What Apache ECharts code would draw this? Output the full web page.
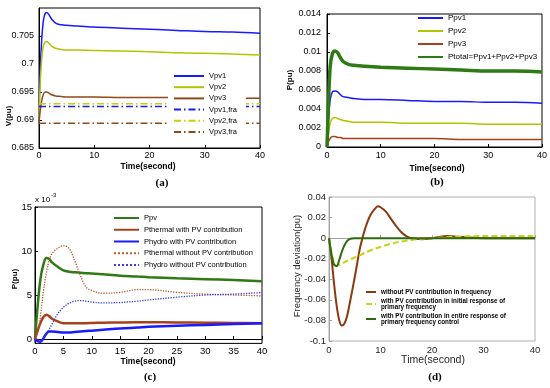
<!DOCTYPE html>
<html><head><meta charset="utf-8">
<script src="https://cdn.jsdelivr.net/npm/echarts@6/dist/echarts.min.js"></script>
<style>html,body{margin:0;padding:0;background:#fff}#c{width:550px;height:388px}</style>
</head><body><div id="c"></div>
<script>
// ---------- (a) PV voltages ----------
const tA = [0, 0.2, 0.5, 0.8, 1.1, 1.4, 1.8, 2.3, 3, 4, 5, 7, 10, 15, 20, 25, 30, 35, 40];
const vpv1 = [0.6905, 0.6985, 0.7045, 0.7078, 0.7090, 0.7092, 0.7088, 0.7080, 0.7073, 0.7070, 0.7069, 0.7068, 0.7066, 0.7064, 0.7062, 0.7060, 0.7058, 0.7057, 0.7055];
const vpv2 = [0.6905, 0.6960, 0.7010, 0.7033, 0.7039, 0.7040, 0.7037, 0.7032, 0.7028, 0.7026, 0.7025, 0.7025, 0.7024, 0.7023, 0.7022, 0.7020, 0.7019, 0.7018, 0.7016];
const vpv3 = [0.6895, 0.6915, 0.6935, 0.6946, 0.6950, 0.6950, 0.6948, 0.6945, 0.6943, 0.6942, 0.6941, 0.6941, 0.6941, 0.6940, 0.6940, 0.6940, 0.6939, 0.6939, 0.6939];
const tFra = [0, 40];
const vpv1Fra = [0.6924, 0.6924];
const vpv2Fra = [0.6929, 0.6929];
const vpv3Fra = [0.6894, 0.6894];

// ---------- (b) PV powers ----------
const tB = [0, 0.3, 0.6, 1.0, 1.5, 2.0, 2.5, 3, 4, 5, 7, 10, 15, 20, 25, 30, 35, 40];
const ptotal = [0, 0.0050, 0.0085, 0.0098, 0.0101, 0.0099, 0.0094, 0.0090, 0.0087, 0.0086, 0.0085, 0.0084, 0.0083, 0.0082, 0.0081, 0.0080, 0.0080, 0.0079];
const ppv1 = [0, 0.0030, 0.0050, 0.0058, 0.0059, 0.0058, 0.0055, 0.0053, 0.0052, 0.0051, 0.0050, 0.0050, 0.0049, 0.0048, 0.0048, 0.0047, 0.0047, 0.0046];
const ppv2 = [0, 0.0015, 0.0025, 0.0030, 0.0031, 0.0030, 0.0029, 0.0028, 0.0027, 0.0026, 0.0026, 0.0026, 0.0025, 0.0025, 0.0025, 0.0024, 0.0024, 0.0024];
const ppv3 = [0, 0.0006, 0.0009, 0.0011, 0.0011, 0.0010, 0.0010, 0.0009, 0.0009, 0.0009, 0.0009, 0.0009, 0.0009, 0.0009, 0.0008, 0.0008, 0.0008, 0.0008];

// ---------- (c) powers, x10^-3 ----------
const tC = [0, 0.5, 1, 1.5, 2, 2.5, 3, 4, 5, 6, 7, 8, 9, 10, 12, 15, 18, 20, 25, 30, 35, 40];
const ppvC = [0, 4.0, 7.0, 8.5, 9.2, 9.1, 8.7, 8.2, 7.8, 7.65, 7.58, 7.52, 7.48, 7.45, 7.35, 7.2, 7.1, 7.02, 6.9, 6.8, 6.7, 6.57];
const thermWith = [0, 1.0, 1.9, 2.5, 2.75, 2.6, 2.3, 2.0, 1.8, 1.78, 1.78, 1.8, 1.8, 1.82, 1.85, 1.88, 1.9, 1.9, 1.88, 1.85, 1.82, 1.8];
const hydroWith = [0, -0.25, -0.3, 0.1, 0.6, 0.85, 0.85, 0.8, 0.75, 0.75, 0.8, 0.85, 0.9, 0.95, 1.05, 1.2, 1.3, 1.38, 1.5, 1.6, 1.7, 1.78];
const thermWithout = [0, 0.8, 2.8, 5.5, 7.5, 8.9, 9.7, 10.3, 10.6, 10.3, 8.9, 7.2, 5.9, 5.5, 5.2, 5.3, 5.6, 5.6, 5.3, 5.1, 5.0, 4.9];
const hydroWithout = [0, -0.1, -0.2, 0.1, 0.6, 1.1, 1.7, 2.85, 3.6, 4.06, 4.3, 4.37, 4.3, 4.2, 4.1, 4.15, 4.3, 4.44, 4.75, 5.0, 5.1, 5.28];
const ticksC = [0, 5, 10, 15];

// ---------- (d) frequency deviation ----------
const tD1 = [0, 0.5, 1, 1.5, 2, 2.5, 3, 3.5, 4, 5, 6, 6.5, 7, 8, 9, 9.5, 10, 11, 12, 13, 14, 15, 16, 18, 20, 23, 26, 30, 40];
const fNoPV = [0, -0.02, -0.045, -0.066, -0.08, -0.085, -0.083, -0.076, -0.064, -0.038, -0.01, 0, 0.009, 0.022, 0.029, 0.031, 0.030, 0.026, 0.019, 0.012, 0.006, 0.002, 0.0, -0.001, 0.0, 0.002, 0.001, 0, 0];
const tD2 = [0, 0.5, 1, 1.5, 2, 4, 6, 8, 10, 12, 14, 16, 18, 20, 25, 30, 40];
const fInitPV = [0, -0.014, -0.024, -0.027, -0.026, -0.021, -0.0165, -0.012, -0.0085, -0.0055, -0.0033, -0.0017, -0.0006, 0, 0.0015, 0.002, 0.002];
const tD3 = [0, 0.5, 1, 1.5, 2, 2.5, 3, 3.5, 4, 4.5, 5, 40];
const fEntirePV = [0, -0.016, -0.026, -0.027, -0.021, -0.013, -0.007, -0.003, -0.001, -0.0003, 0, 0];

const namesA = ['Vpv1', 'Vpv2', 'Vpv3', 'Vpv1,fra', 'Vpv2,fra', 'Vpv3,fra'];
const namesB = ['Ppv1', 'Ppv2', 'Ppv3', 'Ptotal=Ppv1+Ppv2+Ppv3'];
const namesC = ['Ppv', 'Pthermal with PV contribution', 'Phydro with PV contribution', 'Pthermal without PV contribution', 'Phydro without PV contribution'];
const namesD = ['without PV contribution in frequency', 'with PV contribution in initial response of primary frequency', 'with PV contribution in entire response of primary frequency control'];

function zip(t, v) { return t.map((x, i) => [x, v[i]]); }
function line(name, t, v, g, color, width, type, smooth) {
  return {
    type: 'line', name: name, xAxisIndex: g, yAxisIndex: g, data: zip(t, v),
    symbol: 'none', smooth: smooth === undefined ? 0.35 : smooth, animation: false,
    lineStyle: { color: color, width: width, type: type || 'solid' },
    itemStyle: { color: color }
  };
}
const FF = '"Liberation Sans", Arial, sans-serif';
const BLUE = '#1a1aff', YG = '#b4c400', BROWN = '#8e4a1a', RBROWN = '#a8401c', DGREEN = '#2e7a14';
const dashDot = [7, 3, 1.5, 3];
const hideSym = { opacity: 0, borderWidth: 0 };

function xAx(g, interval, color, fs, margin) {
  return {
    type: 'value', gridIndex: g, min: 0, max: 40, interval: interval,
    axisLine: { show: true, lineStyle: { color: color, width: 1 } },
    axisTick: { show: true, inside: true, length: 3, lineStyle: { color: color } },
    splitLine: { show: false },
    axisLabel: { fontSize: fs, fontFamily: FF, color: color === '#000' ? '#000' : '#262626', margin: margin }
  };
}

const chart = echarts.init(document.getElementById('c'), null, { renderer: 'canvas' });
const opt = {
  backgroundColor: '#fff',
  animation: false,
  grid: [
    { left: 39, top: 8, width: 221, height: 140, show: true, borderColor: '#000', borderWidth: 1 },
    { left: 327, top: 14, width: 215, height: 133, show: true, borderColor: '#000', borderWidth: 1 },
    { left: 35, top: 207, width: 227, height: 136.4, show: true, borderColor: '#000', borderWidth: 1 },
    { left: 329, top: 197, width: 206, height: 144, show: true, borderColor: '#b0b0b0', borderWidth: 1 }
  ],
  xAxis: [
    xAx(0, 10, '#000', 9, 3),
    xAx(1, 10, '#000', 9, 4),
    xAx(2, 5, '#000', 9.5, 3),
    xAx(3, 10, '#a0a0a0', 9.5, 4)
  ],
  yAxis: [
    {
      type: 'value', gridIndex: 0, min: 0.685, max: 0.71, interval: 0.005,
      axisLine: { show: true, lineStyle: { color: '#000' } },
      axisTick: { inside: true, length: 3, lineStyle: { color: '#000' } },
      splitLine: { show: false },
      axisLabel: { fontSize: 9, fontFamily: FF, color: '#000', margin: 5, showMaxLabel: false,
        formatter: v => (v > 0.7095 ? '' : String(+v.toFixed(3))) }
    },
    {
      type: 'value', gridIndex: 1, min: 0, max: 0.014, interval: 0.002,
      axisLine: { show: true, lineStyle: { color: '#000' } },
      axisTick: { inside: true, length: 3, lineStyle: { color: '#000' } },
      splitLine: { show: false },
      axisLabel: { fontSize: 9, fontFamily: FF, color: '#000', margin: 6,
        formatter: v => String(+v.toFixed(3)) }
    },
    {
      type: 'value', gridIndex: 2, min: -0.5, max: 15,
      axisLine: { show: true, lineStyle: { color: '#000' } },
      axisTick: { inside: true, length: 3, lineStyle: { color: '#000' }, customValues: ticksC },
      splitLine: { show: false },
      axisLabel: { fontSize: 9.5, fontFamily: FF, color: '#000', margin: 3, customValues: ticksC }
    },
    {
      type: 'value', gridIndex: 3, min: -0.1, max: 0.04, interval: 0.02,
      axisLine: { show: true, lineStyle: { color: '#a0a0a0' } },
      axisTick: { inside: true, length: 3, lineStyle: { color: '#a0a0a0' } },
      splitLine: { show: false },
      axisLabel: { fontSize: 9.5, fontFamily: FF, color: '#262626', margin: 3,
        formatter: v => String(+v.toFixed(2)) }
    }
  ],
  legend: [
    {
      data: namesA, orient: 'vertical', left: 168, top: 69, padding: [3, 9, 3, 5],
      itemWidth: 30, itemHeight: 8, itemGap: 3.2, backgroundColor: '#fff', itemStyle: hideSym,
      textStyle: { fontSize: 7.5, lineHeight: 8, fontFamily: FF, color: '#000' }
    },
    {
      data: namesB, orient: 'vertical', left: 417, top: 14, padding: 0,
      itemWidth: 25, itemHeight: 8, itemGap: 5, itemStyle: hideSym,
      textStyle: { fontSize: 8, lineHeight: 8, fontFamily: FF, color: '#000' }
    },
    {
      data: namesC, orient: 'vertical', left: 111, top: 212, padding: [2, 4, 2, 2],
      itemWidth: 25, itemHeight: 8, itemGap: 3.75, backgroundColor: '#fff', itemStyle: hideSym,
      textStyle: { fontSize: 7.5, lineHeight: 8, fontFamily: FF, color: '#000' }
    },
    {
      data: namesD, orient: 'vertical', left: 365, top: 289, padding: 0,
      itemWidth: 10, itemHeight: 5, itemGap: 3, itemStyle: hideSym,
      formatter: n => n.replace(' of ', ' of\n'),
      textStyle: { fontSize: 6.3, lineHeight: 6, fontWeight: 'bold', fontFamily: FF, color: '#000' }
    }
  ],
  series: [
    line('Vpv1', tA, vpv1, 0, BLUE, 1.5),
    line('Vpv2', tA, vpv2, 0, YG, 1.5),
    line('Vpv3', tA, vpv3, 0, BROWN, 1.5),
    line('Vpv1,fra', tFra, vpv1Fra, 0, BLUE, 1.5, dashDot, false),
    line('Vpv2,fra', tFra, vpv2Fra, 0, '#c8d400', 1.5, dashDot, false),
    line('Vpv3,fra', tFra, vpv3Fra, 0, BROWN, 1.5, dashDot, false),

    line('Ppv1', tB, ppv1, 1, BLUE, 1.5),
    line('Ppv2', tB, ppv2, 1, YG, 1.5),
    line('Ppv3', tB, ppv3, 1, RBROWN, 1.5),
    line('Ptotal=Ppv1+Ppv2+Ppv3', tB, ptotal, 1, DGREEN, 3.5),

    line('Ppv', tC, ppvC, 2, DGREEN, 2.5),
    line('Pthermal with PV contribution', tC, thermWith, 2, RBROWN, 2.5),
    line('Phydro with PV contribution', tC, hydroWith, 2, BLUE, 2.5),
    line('Pthermal without PV contribution', tC, thermWithout, 2, '#b85a30', 1.3, 'dotted'),
    line('Phydro without PV contribution', tC, hydroWithout, 2, '#3a3ae0', 1.3, 'dotted'),

    line(namesD[0], tD1, fNoPV, 3, '#8a3a10', 2),
    line(namesD[1], tD2, fInitPV, 3, '#c4d61a', 2, [6, 3]),
    line(namesD[2], tD3, fEntirePV, 3, '#2d6a0f', 2)
  ],
  graphic: [
    { type: 'text', x: 148, y: 167, style: { text: 'Time(second)', font: 'bold 8.5px ' + FF, fill: '#000', align: 'center', verticalAlign: 'middle' } },
    { type: 'text', x: 162, y: 183, style: { text: '(a)', font: 'bold 11px "Liberation Serif", serif', fill: '#000', align: 'center', verticalAlign: 'middle' } },
    { type: 'text', x: 9, y: 116, rotation: Math.PI / 2, style: { text: 'V(pu)', font: 'bold 8px ' + FF, fill: '#000', align: 'center', verticalAlign: 'middle' } },

    { type: 'text', x: 437, y: 169, style: { text: 'Time(second)', font: 'bold 8.5px ' + FF, fill: '#000', align: 'center', verticalAlign: 'middle' } },
    { type: 'text', x: 437, y: 182, style: { text: '(b)', font: 'bold 11px "Liberation Serif", serif', fill: '#000', align: 'center', verticalAlign: 'middle' } },
    { type: 'text', x: 290, y: 80, rotation: Math.PI / 2, style: { text: 'P(pu)', font: 'bold 8px ' + FF, fill: '#000', align: 'center', verticalAlign: 'middle' } },

    { type: 'text', x: 148, y: 362, style: { text: 'Time(second)', font: 'bold 8.5px ' + FF, fill: '#000', align: 'center', verticalAlign: 'middle' } },
    { type: 'text', x: 150, y: 377, style: { text: '(c)', font: 'bold 11px "Liberation Serif", serif', fill: '#000', align: 'center', verticalAlign: 'middle' } },
    { type: 'text', x: 15, y: 279, rotation: Math.PI / 2, style: { text: 'P(pu)', font: 'bold 8px ' + FF, fill: '#000', align: 'center', verticalAlign: 'middle' } },
    { type: 'text', x: 35, y: 200, style: { text: 'x 10', font: '8px ' + FF, fill: '#000', align: 'left', verticalAlign: 'middle' } },
    { type: 'text', x: 51, y: 195, style: { text: '-3', font: '6px ' + FF, fill: '#000', align: 'left', verticalAlign: 'middle' } },

    { type: 'text', x: 433, y: 360, style: { text: 'Time(second)', font: '10.5px ' + FF, fill: '#262626', align: 'center', verticalAlign: 'middle' } },
    { type: 'text', x: 435, y: 377, style: { text: '(d)', font: 'bold 11px "Liberation Serif", serif', fill: '#000', align: 'center', verticalAlign: 'middle' } },
    { type: 'text', x: 297, y: 266, rotation: Math.PI / 2, style: { text: 'Frequency deviation(pu)', font: '9.5px ' + FF, fill: '#262626', align: 'center', verticalAlign: 'middle' } }
  ]
};
chart.setOption(opt);
</script>
</body></html>
